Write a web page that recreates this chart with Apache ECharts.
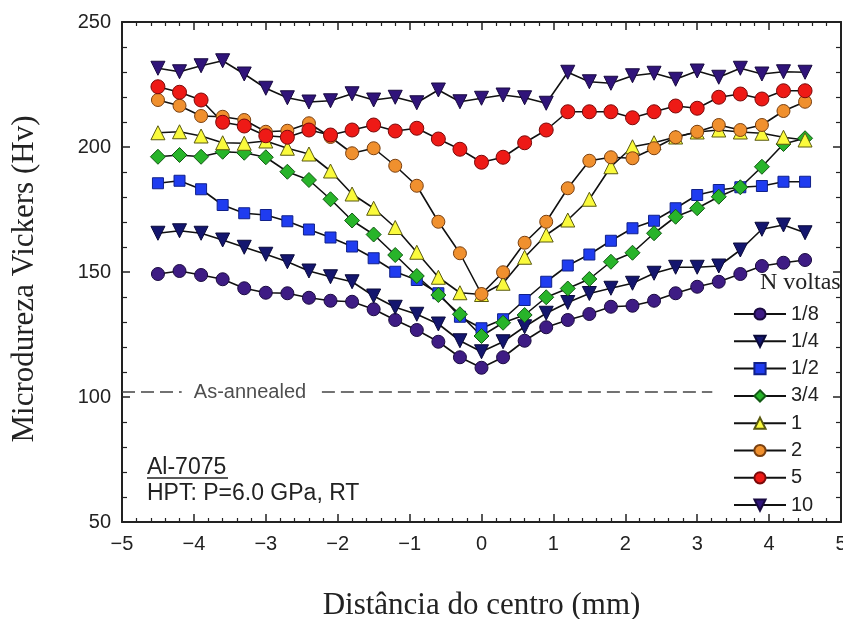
<!DOCTYPE html>
<html>
<head>
<meta charset="utf-8">
<script src="https://cdn.jsdelivr.net/npm/echarts@6/dist/echarts.min.js"></script>
<style>
html,body{margin:0;padding:0;background:#fff;}
#c{width:843px;height:619px;}
</style>
</head>
<body>
<div id="c"></div>
<script>
// Positions along the diameter (mm)
const xPos = [-4.5,-4.2,-3.9,-3.6,-3.3,-3.0,-2.7,-2.4,-2.1,-1.8,-1.5,-1.2,-0.9,-0.6,-0.3,0.0,0.3,0.6,0.9,1.2,1.5,1.8,2.1,2.4,2.7,3.0,3.3,3.6,3.9,4.2,4.5];

const hv_1_8 = [149.2,150.4,148.8,147.1,143.5,141.7,141.5,139.7,138.5,138.1,135.1,130.8,126.8,122.1,115.9,111.7,115.9,122.5,127.9,130.8,133.2,136.1,136.5,138.5,141.5,144.1,146.1,149.2,152.4,153.7,154.8];
const hv_1_4 = [165.5,166.5,165.5,162.8,159.9,157.1,154.1,150.4,148.1,146.1,140.4,135.9,133.1,129.2,122.5,118.1,122.1,128.1,133.5,137.8,141.4,143.5,145.5,149.5,151.9,151.9,152.4,158.8,167.1,168.8,165.7];
const hv_1_2 = [185.5,186.5,183.1,176.8,173.5,172.8,170.3,167.0,163.8,160.2,155.5,150.1,146.8,141.5,132.1,127.5,131.1,138.8,146.1,152.6,157.0,162.5,167.5,170.5,175.5,180.8,182.8,183.9,184.4,186.1,186.1];
const hv_3_4 = [196.1,196.8,196.1,198.1,197.7,195.9,190.1,186.8,179.1,170.6,165.0,156.8,148.4,140.8,133.1,124.4,129.7,132.8,139.9,143.4,147.2,154.1,157.7,165.5,172.1,175.5,180.1,183.9,192.1,201.2,203.5];
const hv_1   = [205.7,206.1,204.4,201.7,201.5,202.4,199.5,197.2,190.4,181.2,175.5,167.8,157.9,147.9,141.7,141.0,145.5,155.9,164.8,170.8,179.1,192.1,200.1,201.7,204.0,206.0,206.8,206.0,205.5,203.9,202.8];
const hv_2   = [218.8,216.5,212.4,212.1,210.8,206.1,206.5,209.5,204.0,197.5,199.5,192.5,184.5,170.1,157.5,141.2,149.9,161.7,170.1,183.5,194.5,195.9,195.5,199.5,203.9,206.1,208.8,206.8,208.8,214.4,218.1];
const hv_5   = [224.1,221.9,218.8,209.9,208.4,204.5,203.9,206.8,204.8,206.8,208.8,206.4,207.5,203.2,199.1,193.9,195.9,201.7,206.8,214.1,214.1,214.1,211.7,214.1,216.4,215.5,219.9,221.2,219.2,222.5,222.5];
const hv_10  = [231.5,230.1,232.5,234.5,229.2,223.5,219.7,218.0,218.5,221.3,218.8,219.9,217.7,222.8,218.1,219.5,220.8,219.7,217.5,229.9,226.1,225.5,228.5,229.5,227.1,230.4,227.9,231.5,229.2,230.1,229.9];

const seriesNames = ['1/8','1/4','1/2','3/4','1','2','5','10'];
const seriesValues = [hv_1_8, hv_1_4, hv_1_2, hv_3_4, hv_1, hv_2, hv_5, hv_10];

// As-annealed reference level and dashed segment extents
const annealedHv = 102;
const annealedSeg1 = [-5.0, -4.17];
const annealedSeg2 = [-2.22, 3.21];
const annealedLabelX = -3.22;

const xTicks = [-5,-4,-3,-2,-1,0,1,2,3,4,5];
const yTicks = [50,100,150,200,250];

const styles = {
  '1/8': {symbol:'circle', size:13, rotate:0, color:'#3e1c84', border:'#1a0a40'},
  '1/4': {symbol:'triangle', size:14, rotate:180, color:'#14166e', border:'#0a0a3a'},
  '1/2': {symbol:'rect', size:11, rotate:0, color:'#1f3cf0', border:'#10208a'},
  '3/4': {symbol:'diamond', size:15, rotate:0, color:'#28b42a', border:'#125a14'},
  '1':   {symbol:'triangle', size:14, rotate:0, color:'#fafa3c', border:'#5a5a10'},
  '2':   {symbol:'circle', size:13, rotate:0, color:'#f0902e', border:'#7a4010'},
  '5':   {symbol:'circle', size:14, rotate:0, color:'#ee1a16', border:'#7a0a0a'},
  '10':  {symbol:'triangle', size:14, rotate:180, color:'#30147a', border:'#180a40'}
};

const SANS = 'Liberation Sans';
const SERIF = 'Liberation Serif';
const AX = '#222';

const series = seriesNames.map((n, k) => {
  const s = styles[n];
  return {
    name: n, type: 'line',
    data: xPos.map((x, i) => [x, seriesValues[k][i]]),
    symbol: s.symbol, symbolSize: s.size, symbolRotate: s.rotate,
    showAllSymbol: true,
    lineStyle: {color: '#111', width: 1.6},
    itemStyle: {color: s.color, borderColor: s.border, borderWidth: 1},
    emphasis: {disabled: true},
    animation: false,
    z: 3
  };
});

const dashStyle = {color: '#444', width: 1.6, type: [13, 6]};
series.unshift(
  {type:'line', name:'_a1', data:[[annealedSeg1[0], annealedHv],[annealedSeg1[1], annealedHv]], symbol:'none', lineStyle:dashStyle, silent:true, animation:false, z:2},
  {type:'line', name:'_a2', data:[[annealedSeg2[0], annealedHv],[annealedSeg2[1], annealedHv]], symbol:'none', lineStyle:dashStyle, silent:true, animation:false, z:2},
  {type:'scatter', name:'_alab', data:[[annealedLabelX, annealedHv]], symbolSize:0, silent:true, animation:false,
   label:{show:true, position:'inside', formatter:'As-annealed', fontFamily:SANS, fontSize:20, color:'#222'}}
);

const fmtX = v => (v < 0 ? '\u2212' + Math.abs(v) : String(v));

const baseAxisLine = {show:true, onZero:false, lineStyle:{color:AX, width:2}};
const chart = echarts.init(document.getElementById('c'), null, {renderer:'canvas'});
chart.setOption({
  backgroundColor: '#fff',
  animation: false,
  grid: {left:122, right:2, top:22, bottom:97, containLabel:false, outerBoundsMode:'none'},
  xAxis: [
    {type:'value', min:xTicks[0], max:xTicks[xTicks.length-1], interval:1, position:'bottom',
     axisLine: baseAxisLine,
     axisTick:{show:true, inside:true, length:8, lineStyle:{color:AX, width:1.5}},
     minorTick:{show:true, splitNumber:5, length:4, lineStyle:{color:AX, width:1.2}},
     splitLine:{show:false}, minorSplitLine:{show:false},
     axisLabel:{fontFamily:SANS, fontSize:20, color:AX, margin:12, formatter:fmtX},
     name:'Distância do centro (mm)', nameLocation:'middle', nameGap:68,
     nameTextStyle:{fontFamily:SERIF, fontSize:31, color:AX}},
    {type:'value', min:xTicks[0], max:xTicks[xTicks.length-1], interval:1, position:'top',
     axisLine: baseAxisLine,
     axisTick:{show:true, inside:true, length:8, lineStyle:{color:AX, width:1.5}},
     minorTick:{show:true, splitNumber:5, length:4, lineStyle:{color:AX, width:1.2}},
     splitLine:{show:false}, axisLabel:{show:false}}
  ],
  yAxis: [
    {type:'value', min:yTicks[0], max:yTicks[yTicks.length-1], interval:50, position:'left',
     axisLine: baseAxisLine,
     axisTick:{show:true, inside:true, length:8, lineStyle:{color:AX, width:1.5}},
     minorTick:{show:true, splitNumber:5, length:5, lineStyle:{color:AX, width:1.2}},
     splitLine:{show:false}, minorSplitLine:{show:false},
     axisLabel:{fontFamily:SANS, fontSize:20, color:AX, margin:11},
     name:'Microdureza Vickers (Hv)', nameLocation:'middle', nameGap:82, nameRotate:90,
     nameTextStyle:{fontFamily:SERIF, fontSize:31, color:AX, padding:[0,14,0,0]}},
    {type:'value', min:yTicks[0], max:yTicks[yTicks.length-1], interval:50, position:'right',
     axisLine: baseAxisLine,
     axisTick:{show:true, inside:true, length:8, lineStyle:{color:AX, width:1.5}},
     minorTick:{show:true, splitNumber:5, length:5, lineStyle:{color:AX, width:1.2}},
     splitLine:{show:false}, axisLabel:{show:false}}
  ],
  legend: {
    data: seriesNames, orient:'vertical', left:728, top:299,
    itemWidth:52, itemHeight:14, itemGap:7.3,
    textStyle:{fontFamily:SANS, fontSize:20, color:AX},
    selectedMode:false, backgroundColor:'rgba(255,255,255,0)'
  },
  graphic: [
    {type:'text', left:760, top:271, style:{text:'N voltas', font:'24px "Liberation Serif"', fill:'#222'}, z:10},
    {type:'text', left:147, top:456, style:{text:'Al-7075', font:'23px "Liberation Sans"', fill:'#222'}, z:10},
    {type:'line', shape:{x1:147, y1:478, x2:228, y2:478}, style:{stroke:'#222', lineWidth:1.3}, z:10},
    {type:'text', left:147, top:482, style:{text:'HPT: P=6.0 GPa, RT', font:'23px "Liberation Sans"', fill:'#222'}, z:10}
  ],
  series: series
});
</script>
</body>
</html>
